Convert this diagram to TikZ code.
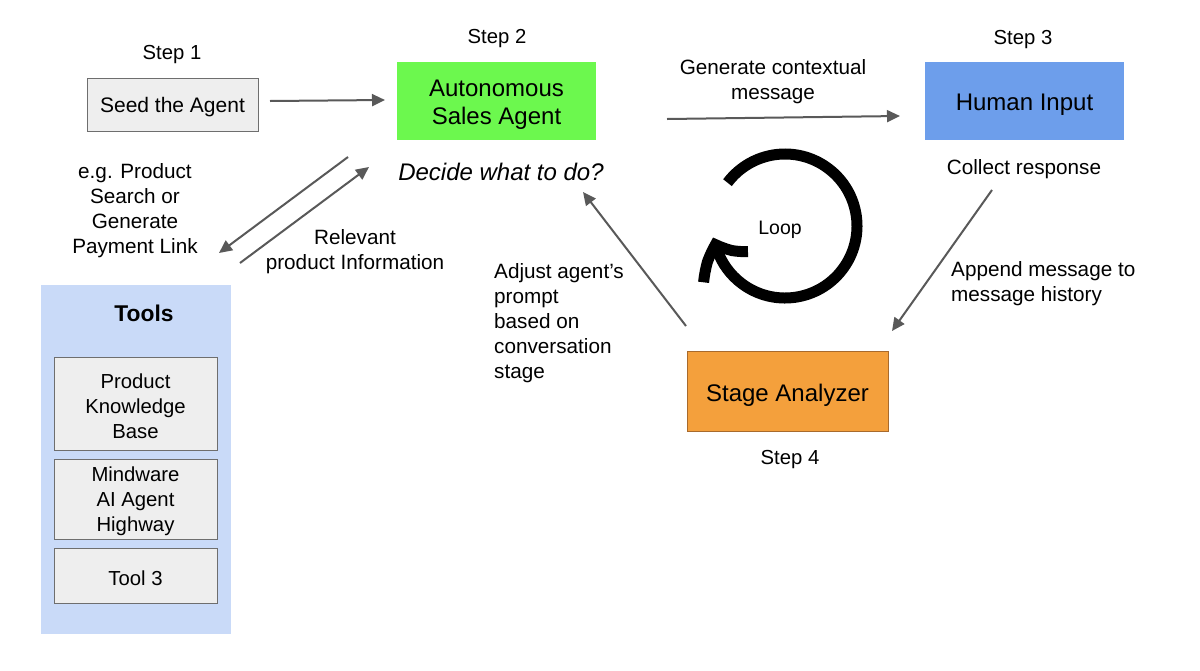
\documentclass[tikz,border=0pt]{standalone}
\usepackage{fontspec}
\setmainfont{Liberation Sans}
\usetikzlibrary{arrows.meta,bending}
\definecolor{arrgray}{HTML}{595959}
\definecolor{boxgray}{HTML}{EEEEEE}
\definecolor{boxline}{HTML}{6E6E6E}
\definecolor{agentgreen}{HTML}{6CF84E}
\definecolor{humanblue}{HTML}{6D9EEB}
\definecolor{stageorange}{HTML}{F4A03C}
\definecolor{stageline}{HTML}{A86A2C}
\definecolor{toolsblue}{HTML}{C9DAF8}
\tikzset{
  arr/.style={draw=arrgray, line width=2pt, -{Triangle[length=13pt,width=12pt]}},
  graybox/.style={draw=boxline, line width=1pt, fill=boxgray, inner sep=0pt},
  boxtxt/.style={inner sep=0pt, align=center, yshift=-2.5pt, font=\fontsize{20.5}{25}\selectfont},
  bigtxt/.style={inner sep=0pt, align=center, yshift=-4pt, font=\fontsize{24}{28}\selectfont},
  lbl/.style={inner sep=0pt, yshift=-2.5pt, font=\fontsize{20.7}{25}\selectfont},
  steplbl/.style={inner sep=0pt, yshift=-2.5pt, font=\fontsize{20.3}{25}\selectfont},
}
\begin{document}
\begin{tikzpicture}[x=1pt,y=-1pt]
\useasboundingbox[fill=white] (0,0) rectangle (1200,670);

% Step labels
\node[steplbl] (s1) at (172,52) {Step 1};
\node[steplbl] (s2) at (497,36) {Step 2};
\node[steplbl] (s3) at (1023,37) {Step 3};
\node[steplbl] (s4) at (790,457) {Step 4};

% Main boxes
\node[graybox, minimum width=171pt, minimum height=53pt] (seed) at (172.5,104.5) {};
\node[boxtxt, font=\fontsize{21}{25}\selectfont] (seedtxt) at (seed.center) {Seed the Agent};
\node[fill=agentgreen, minimum width=199pt, minimum height=78pt, inner sep=0pt] (agent) at (496.5,101) {};
\node[bigtxt] (agenttxt) at (agent.center) {Autonomous\\Sales Agent};
\node[fill=humanblue, minimum width=199pt, minimum height=78pt, inner sep=0pt] (human) at (1024.5,101) {};
\node[bigtxt] (humantxt) at (human.center) {Human Input};
\node[fill=stageorange, draw=stageline, line width=0.8pt, minimum width=201pt, minimum height=80pt, inner sep=0pt] (stage) at (787.5,391) {};
\node[bigtxt] (stagetxt) at (stage.center) {Stage Analyzer};

\node[inner sep=0pt, yshift=-2pt, font=\fontsize{24}{28}\selectfont\itshape] (decide) at (501,170) {Decide what to do?};
\node[lbl] (collect) at (1024,167) {Collect response};

% Tools panel
\node[fill=toolsblue, minimum width=190pt, minimum height=349pt, inner sep=0pt] (tools) at (136,459.5) {};
\node[inner sep=0pt, yshift=-1pt, font=\fontsize{22.8}{28}\bfseries] (toolstitle) at (144,312) {Tools};
\node[graybox, minimum width=163pt, minimum height=93pt] (t1) at (135.5,403.5) {};
\node[boxtxt, font=\fontsize{20.3}{25}\selectfont] (t1txt) at (t1.center) {Product\\Knowledge\\Base};
\node[graybox, minimum width=163pt, minimum height=80pt] (t2) at (135.5,499) {};
\node[boxtxt, font=\fontsize{20.3}{25}\selectfont] (t2txt) at (t2.center) {Mindware\\AI Agent\\Highway};
\node[graybox, minimum width=163pt, minimum height=55pt] (t3) at (135.5,575.5) {};
\node[boxtxt, font=\fontsize{20.3}{25}\selectfont] (t3txt) at (t3.center) {Tool 3};

% Labels
\node[lbl, align=center] (genlbl) at (773,79) {Generate contextual\\message};
\node[lbl, align=left, anchor=west] (applbl) at (951,281.5) {Append message to\\message history};
\node[lbl, align=left, anchor=north west] (adjlbl) at (494,261) {Adjust agent’s\\prompt\\based on\\conversation\\stage};
\node[lbl, align=center] (eglbl) at (135,208.5) {e.g. Product\\Search or\\Generate\\Payment Link};
\node[lbl, align=center] (rellbl) at (355,249.5) {Relevant\\product Information};

% Arrow end points
\coordinate (a1s) at (270,101);
\coordinate (a1e) at (385,100);
\coordinate (a2s) at (667,119);
\coordinate (a2e) at (900,116);
\coordinate (a3s) at (992,190);
\coordinate (a3e) at (892,331);
\coordinate (a4s) at (686,326);
\coordinate (a4e) at (583,192);
\coordinate (a5s) at (348,157);
\coordinate (a5e) at (219,253);
\coordinate (a6s) at (240,263);
\coordinate (a6e) at (369,167);

\draw[arr] (a1s) -- (a1e);
\draw[arr] (a2s) -- (a2e);
\draw[arr] (a3s) -- (a3e);
\draw[arr] (a4s) -- (a4e);
\draw[arr] (a5s) -- (a5e);
\draw[arr] (a6s) -- (a6e);

% Loop
\coordinate (loopc) at (785,226);
\node[inner sep=0pt, yshift=-2pt, font=\fontsize{19.5}{23}\selectfont] (looplbl) at (780,228) {Loop};
\draw[line width=11pt, -{Straight Barb[length=25pt,width=54pt,bend]}]
  ([shift={(-143:72)}]loopc) arc[start angle=-143, end angle=171, radius=72];
\end{tikzpicture}
\end{document}
